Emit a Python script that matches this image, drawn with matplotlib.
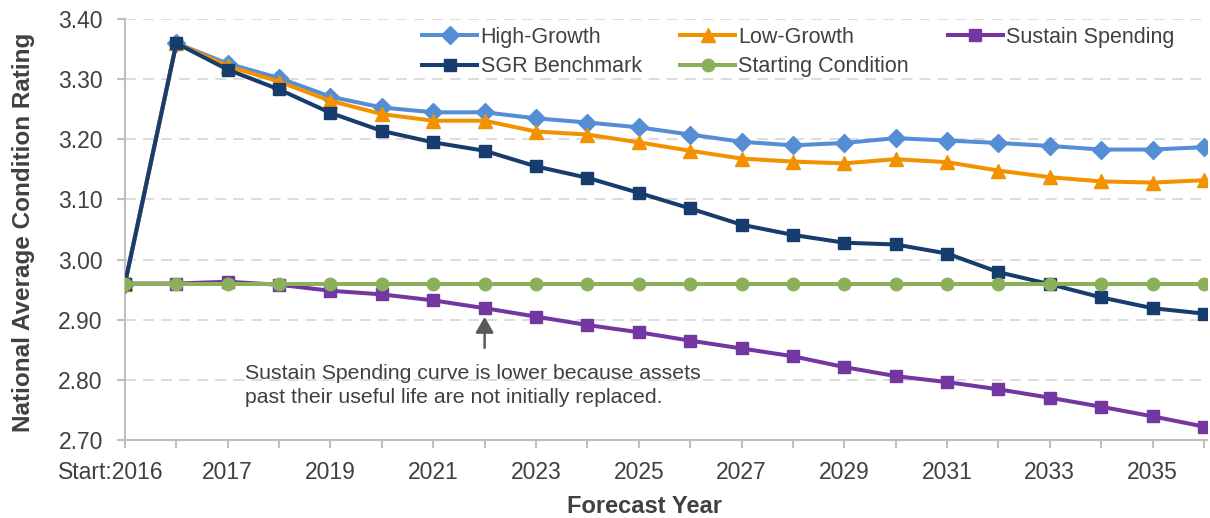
import matplotlib
matplotlib.use("Agg")
import matplotlib.pyplot as plt
from matplotlib.transforms import ScaledTranslation

plt.rcParams["font.family"] = ["Liberation Sans", "DejaVu Sans"]

# ------- Données -------
years = ["Start:2016"] + [str(y) for y in range(2016, 2037)]

high_growth = [2.96, 3.36, 3.326, 3.302, 3.271, 3.253, 3.245, 3.245, 3.235, 3.228,
               3.220, 3.208, 3.196, 3.190, 3.194, 3.202, 3.198, 3.194, 3.189, 3.183,
               3.183, 3.187]
low_growth = [2.96, 3.36, 3.322, 3.296, 3.264, 3.242, 3.231, 3.231, 3.213, 3.208,
              3.195, 3.181, 3.168, 3.163, 3.160, 3.167, 3.162, 3.148, 3.137, 3.130,
              3.128, 3.132]
sustain = [2.96, 2.96, 2.963, 2.958, 2.948, 2.942, 2.932, 2.919, 2.905, 2.891,
           2.879, 2.865, 2.852, 2.839, 2.821, 2.806, 2.796, 2.784, 2.770, 2.755,
           2.739, 2.722]
sgr = [2.96, 3.36, 3.316, 3.283, 3.244, 3.214, 3.195, 3.181, 3.155, 3.136,
       3.111, 3.085, 3.058, 3.041, 3.028, 3.025, 3.010, 2.979, 2.959, 2.937,
       2.919, 2.910]
starting = [2.96] * len(years)

yticks = [2.70, 2.80, 2.90, 3.00, 3.10, 3.20, 3.30, 3.40]

# ------- Figure -------
fig = plt.figure(figsize=(12.1, 5.18), dpi=100)
ax = fig.add_axes((0.1033, 0.151, 0.8942, 0.812))

x = list(range(len(years)))
lw = 2.9

h_high, = ax.plot(x, high_growth, color="#558ED5", lw=lw, marker="D", ms=9,
                  label="High-Growth", zorder=3)
h_low, = ax.plot(x, low_growth, color="#F39200", lw=lw, marker="^", ms=10,
                 label="Low-Growth", zorder=4)
h_sus, = ax.plot(x, sustain, color="#7436A0", lw=lw, marker="s", ms=9,
                 label="Sustain Spending", zorder=3)
h_sgr, = ax.plot(x, sgr, color="#173C6E", lw=lw, marker="s", ms=9,
                 label="SGR Benchmark", zorder=5)
h_start, = ax.plot(x, starting, color="#8BB05A", lw=lw, marker="o", ms=9,
                   label="Starting Condition", zorder=6)

# ------- Axes -------
ax.set_xlim(0, len(years) - 1 + 0.06)
ax.set_ylim(2.70, 3.40)
ax.set_yticks(yticks)
ax.set_yticklabels([f"{v:.2f}" for v in yticks])
ax.set_xticks(x)
ax.set_xticklabels([lab if i % 2 == 0 else "" for i, lab in enumerate(years)])

for spine in ("top", "right"):
    ax.spines[spine].set_visible(False)
for spine in ("left", "bottom"):
    ax.spines[spine].set_color("#BFBFBF")
    ax.spines[spine].set_linewidth(1.5)

ax.tick_params(axis="both", colors="#BFBFBF", width=1.5, length=6,
               labelsize=16.5, labelcolor="#404040")
ax.tick_params(axis="x", pad=9)
ax.tick_params(axis="y", pad=10)

# "Start:2016" est décalé vers la gauche comme dans Excel
first = ax.get_xticklabels()[0]
first.set_transform(first.get_transform()
                    + ScaledTranslation(-14 / 100, 0, fig.dpi_scale_trans))

ax.grid(axis="y", color="#D9D9D9", linestyle=(0, (6, 4)), linewidth=1.3)
ax.set_axisbelow(True)

ax.set_xlabel("Forecast Year", fontsize=17, fontweight="bold", color="#404040")
ax.set_ylabel("National Average Condition Rating", fontsize=17.5,
              fontweight="bold", color="#404040")
ax.xaxis.set_label_coords(0.4806, -0.159)
ax.xaxis.label.set_va("center")
ax.yaxis.set_label_coords(-0.094, 0.494)
ax.yaxis.label.set_va("center")

# ------- Annotation -------
ax.annotate("", xy=(7, 2.9045), xytext=(7, 2.853),
            arrowprops=dict(arrowstyle="-|>,head_length=0.95,head_width=0.55",
                            color="#595959", lw=1.8, shrinkA=0, shrinkB=0))
ax.text(2.33, 2.826,
        "Sustain Spending curve is lower because assets\n"
        "past their useful life are not initially replaced.",
        fontsize=15.3, color="#404040", va="top", ha="left", linespacing=1.3)

# ------- Légende -------
leg = fig.legend([h_high, h_sgr, h_low, h_start, h_sus],
                 ["High-Growth", "SGR Benchmark", "Low-Growth",
                  "Starting Condition", "Sustain Spending"],
                 ncol=3, loc="upper left", bbox_to_anchor=(0.342, 0.965),
                 frameon=False, fontsize=15.5, handlelength=2.55,
                 handletextpad=0.15, columnspacing=1.8, labelspacing=0.4,
                 borderaxespad=0)
for t in leg.get_texts():
    t.set_color("#404040")

fig.savefig("out.png", dpi=100)
